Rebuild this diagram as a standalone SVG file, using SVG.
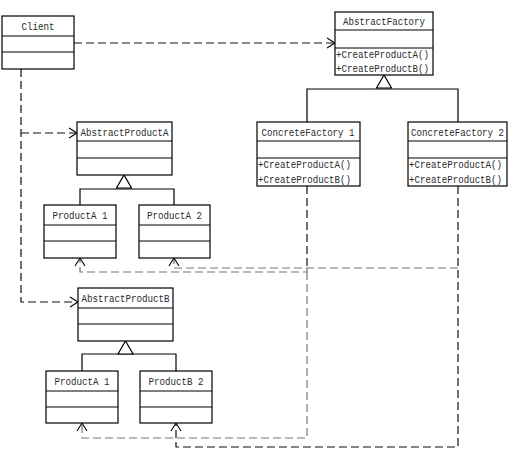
<svg xmlns="http://www.w3.org/2000/svg" width="517" height="457" viewBox="0 0 517 457">
<style>
.box{fill:#fff;stroke:#000;stroke-width:1.2}
.div{stroke:#000;stroke-width:1}
.t{font-family:"Liberation Mono","DejaVu Sans Mono",monospace;font-size:10.2px;fill:#2a2a2a}
.c{text-anchor:middle}
.con{fill:none;stroke:#111;stroke-width:1.2;stroke-dasharray:8,4}
.g{stroke:#777}
.gen{fill:none;stroke:#000;stroke-width:1.2}
.tri{fill:#fff;stroke:#000;stroke-width:1.2}
</style>
<defs>
<marker id="open" markerUnits="userSpaceOnUse" markerWidth="12" markerHeight="12" refX="8" refY="5" orient="auto" overflow="visible">
<path d="M0,0 L8,5 L0,10" fill="none" stroke="#000" stroke-width="1.1" stroke-dasharray="none"/>
</marker>
</defs>
<rect width="517" height="457" fill="#fff"/>

<g id="connectors">
<path class="con" d="M74,43 H335" marker-end="url(#open)"/>
<path class="con" d="M21,69 V302 H78" marker-end="url(#open)"/>
<path class="con" d="M21,133 H77" marker-end="url(#open)"/>
<path class="con" d="M307,186 V268"/>
<path class="con g" d="M307,268 V272 H80 V258" marker-end="url(#open)"/>
<path class="con g" d="M307,272 V438 H82 V423" marker-end="url(#open)"/>
<path class="con" d="M458,186 V447 H176 V423" marker-end="url(#open)"/>
<path class="con g" d="M458,268 H174 V258" marker-end="url(#open)"/>
<path class="gen" d="M307,122 V89 H458 V122"/>
<path class="gen" d="M80,205 V189 H174 V205"/>
<path class="gen" d="M82,371 V354 H176 V371"/>
<polygon class="tri" points="384,75 376.5,88 391.5,88"/>
<polygon class="tri" points="124,175 116.5,188 131.5,188"/>
<polygon class="tri" points="125.5,341 118,354 133,354"/>
</g>

<g id="client">
<rect class="box" x="2" y="16" width="72" height="53"/>
<line class="div" x1="2" y1="36" x2="74" y2="36"/>
<line class="div" x1="2" y1="52" x2="74" y2="52"/>
<text class="t c" x="38" y="29.5" textLength="33" lengthAdjust="spacingAndGlyphs">Client</text>
</g>

<g id="abstractFactory">
<rect class="box" x="335" y="12" width="98" height="63"/>
<line class="div" x1="335" y1="30" x2="433" y2="30"/>
<line class="div" x1="335" y1="48" x2="433" y2="48"/>
<text class="t c" x="384" y="24.5" textLength="82" lengthAdjust="spacingAndGlyphs">AbstractFactory</text>
<text class="t" x="336" y="57.5" textLength="93" lengthAdjust="spacingAndGlyphs">+CreateProductA()</text>
<text class="t" x="336" y="71.5" textLength="93" lengthAdjust="spacingAndGlyphs">+CreateProductB()</text>
</g>

<g id="concreteFactory1">
<rect class="box" x="257" y="122" width="103" height="64"/>
<line class="div" x1="257" y1="141" x2="360" y2="141"/>
<line class="div" x1="257" y1="158" x2="360" y2="158"/>
<text class="t c" x="308" y="135.5" textLength="93" lengthAdjust="spacingAndGlyphs">ConcreteFactory 1</text>
<text class="t" x="258" y="167.5" textLength="93" lengthAdjust="spacingAndGlyphs">+CreateProductA()</text>
<text class="t" x="258" y="182.5" textLength="93" lengthAdjust="spacingAndGlyphs">+CreateProductB()</text>
</g>

<g id="concreteFactory2">
<rect class="box" x="408" y="122" width="99" height="64"/>
<line class="div" x1="408" y1="141" x2="507" y2="141"/>
<line class="div" x1="408" y1="158" x2="507" y2="158"/>
<text class="t c" x="457.5" y="135.5" textLength="93" lengthAdjust="spacingAndGlyphs">ConcreteFactory 2</text>
<text class="t" x="409" y="167.5" textLength="93" lengthAdjust="spacingAndGlyphs">+CreateProductA()</text>
<text class="t" x="409" y="182.5" textLength="93" lengthAdjust="spacingAndGlyphs">+CreateProductB()</text>
</g>

<g id="abstractProductA">
<rect class="box" x="77" y="122" width="95" height="53"/>
<line class="div" x1="77" y1="141" x2="172" y2="141"/>
<line class="div" x1="77" y1="158" x2="172" y2="158"/>
<text class="t c" x="124.5" y="135.5" textLength="88" lengthAdjust="spacingAndGlyphs">AbstractProductA</text>
</g>

<g id="productA1">
<rect class="box" x="44" y="205" width="72" height="53"/>
<line class="div" x1="44" y1="225" x2="116" y2="225"/>
<line class="div" x1="44" y1="241" x2="116" y2="241"/>
<text class="t c" x="80" y="218.5" textLength="55" lengthAdjust="spacingAndGlyphs">ProductA 1</text>
</g>

<g id="productA2">
<rect class="box" x="139" y="205" width="71" height="53"/>
<line class="div" x1="139" y1="225" x2="210" y2="225"/>
<line class="div" x1="139" y1="241" x2="210" y2="241"/>
<text class="t c" x="174.5" y="218.5" textLength="55" lengthAdjust="spacingAndGlyphs">ProductA 2</text>
</g>

<g id="abstractProductB">
<rect class="box" x="78" y="288" width="95" height="53"/>
<line class="div" x1="78" y1="308" x2="173" y2="308"/>
<line class="div" x1="78" y1="324" x2="173" y2="324"/>
<text class="t c" x="125.5" y="301.5" textLength="88" lengthAdjust="spacingAndGlyphs">AbstractProductB</text>
</g>

<g id="productB1">
<rect class="box" x="46" y="371" width="72" height="52"/>
<line class="div" x1="46" y1="391" x2="118" y2="391"/>
<line class="div" x1="46" y1="407" x2="118" y2="407"/>
<text class="t c" x="82" y="384.5" textLength="55" lengthAdjust="spacingAndGlyphs">ProductA 1</text>
</g>

<g id="productB2">
<rect class="box" x="140" y="371" width="72" height="52"/>
<line class="div" x1="140" y1="391" x2="212" y2="391"/>
<line class="div" x1="140" y1="407" x2="212" y2="407"/>
<text class="t c" x="176" y="384.5" textLength="55" lengthAdjust="spacingAndGlyphs">ProductB 2</text>
</g>
</svg>
